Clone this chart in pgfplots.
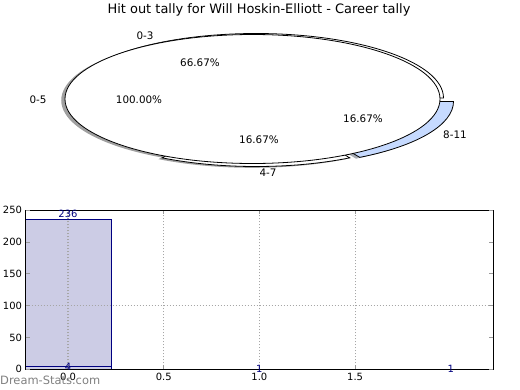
\documentclass[border=0pt]{standalone}
\usepackage{fontspec}
\setmainfont{DejaVu Sans}
\usepackage{pgfplots}
\pgfplotsset{compat=1.18}
\definecolor{barfill}{RGB}{204,204,229}
\definecolor{navyc}{RGB}{0,0,128}
\definecolor{sliceblue}{RGB}{198,218,255}
\definecolor{shadowc}{RGB}{160,160,160}
% data: hit outs per bin
\def\vA{4}   % 0-3
\def\vB{1}   % 4-7
\def\vC{1}   % 8-11
\def\vD{236} % 0-5
\pgfmathsetmacro\tot{\vA+\vB+\vC}
\pgfmathsetmacro\angA{360*\vA/\tot}
\pgfmathsetmacro\angB{\angA+360*\vB/\tot}
\pgfmathsetmacro\angC{\angB+360*\vC/\tot}
\begin{document}
\begin{tikzpicture}
\path[use as bounding box] (0,0) rectangle (520bp,390bp);
% ---------- pie (pixel coordinates) ----------
\begin{axis}[at={(0,0)}, anchor=south west, scale only axis,
  width=520bp, height=390bp, xmin=0, xmax=520, ymin=0, ymax=390,
  y dir=reverse, hide axis, clip=false]
% shadows
\fill[shadowc] (axis cs:252.25,99.3) -- ++(0:187.5bp and 64.5bp) arc[start angle=0,end angle=\angA,x radius=187.5bp,y radius=64.5bp] -- cycle;
\fill[shadowc] (axis cs:252.25,103.3) -- ++(\angA:187.5bp and 64.5bp) arc[start angle=\angA,end angle=\angB,x radius=187.5bp,y radius=64.5bp] -- cycle;
\fill[shadowc!80!sliceblue] (axis cs:262.25,102.8) -- ++(\angB:187.5bp and 64.5bp) arc[start angle=\angB,end angle=\angC,x radius=187.5bp,y radius=64.5bp] -- cycle;
\fill[shadowc] (axis cs:248.75,100.3) ellipse[x radius=187.5bp, y radius=64.5bp];
% second pie (0-3, 4-7, 8-11)
\filldraw[fill=white, draw=black, line width=0.8bp] (axis cs:256,98) -- ++(0:187.5bp and 64.5bp) arc[start angle=0,end angle=\angA,x radius=187.5bp,y radius=64.5bp] -- cycle;
\filldraw[fill=white, draw=black, line width=0.8bp] (axis cs:256,102) -- ++(\angA:187.5bp and 64.5bp) arc[start angle=\angA,end angle=\angB,x radius=187.5bp,y radius=64.5bp] -- cycle;
\filldraw[fill=sliceblue, draw=black, line width=0.8bp] (axis cs:266,101.5) -- ++(\angB:187.5bp and 64.5bp) arc[start angle=\angB,end angle=\angC,x radius=187.5bp,y radius=64.5bp] -- cycle;
% first pie (0-5, 100%)
\filldraw[fill=white, draw=black, line width=0.8bp] (axis cs:252.5,99) ellipse[x radius=187.5bp, y radius=64.5bp];
% texts
\node at (axis cs:259,10) {\fontsize{13}{15}\selectfont Hit out tally for Will Hoskin-Elliott - Career tally};
\begin{scope}[every node/.style={font=\fontsize{10.4}{12}\selectfont}]
\node at (axis cs:145,36) {0-3};
\node at (axis cs:38,100) {0-5};
\node at (axis cs:268,173) {4-7};
\node at (axis cs:455,135) {8-11};
\node at (axis cs:200,63) {66.67\%};
\node at (axis cs:139,100) {100.00\%};
\node at (axis cs:259,140) {16.67\%};
\node at (axis cs:363,119) {16.67\%};
\end{scope}
\end{axis}
% ---------- bar chart ----------
\begin{axis}[at={(25.5bp,20.7bp)}, anchor=south west, scale only axis,
  width=467.8bp, height=159bp,
  xmin=-0.222, xmax=2.222, ymin=0, ymax=250,
  xtick={0,0.5,1,1.5}, ytick={100},
  extra y ticks={0,50,150,200,250},
  extra y tick style={grid=none},
  xticklabel style={/pgf/number format/.cd, fixed, fixed zerofill, precision=1},
  /pgf/number format/assume math mode=true,
  tick label style={font=\fontsize{10}{12}\selectfont},
  axis line style={black, line width=0.9bp},
  tick style={gray!80, line width=0.8bp},
  major tick length=4bp,
  xmajorgrids, ymajorgrids,
  grid style={gray!70, line width=1.1bp, dash pattern=on 1.4bp off 1.6bp},
  axis on top,
  clip=false,
  nodes near coords style={font=\fontsize{10}{12}\selectfont, text=navyc, anchor=center, inner sep=0pt},
]
\addplot[ybar, bar width=0.45, bar shift=0pt, fill=barfill, draw=navyc, line width=0.8bp,
  nodes near coords, nodes near coords style={yshift=5bp}] coordinates {(0,236)};
\addplot[ybar, bar width=0.45, bar shift=0pt, fill=barfill, draw=navyc, line width=0.8bp,
  nodes near coords] coordinates {(0,4)};
\addplot[only marks, mark=none, nodes near coords] coordinates {(1,1) (2,1)};
\end{axis}
\node[anchor=west, text=gray, inner sep=0pt] at (0bp,10bp) {\fontsize{11.5}{13}\selectfont Dream-Stats.com};
\end{tikzpicture}
\end{document}
